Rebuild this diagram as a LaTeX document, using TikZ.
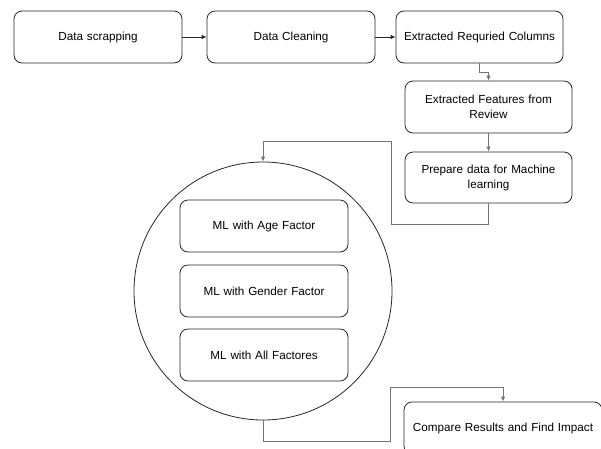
\documentclass[tikz,border=0pt]{standalone}
\usepackage{fontspec}
\setmainfont{Liberation Sans}
\usepackage{tikz}
\usetikzlibrary{arrows.meta,positioning}

\begin{document}
\begin{tikzpicture}[x=1pt,y=-1pt,
      step_box/.style={
         rectangle,
         rounded corners=8pt,
         draw=black!85,
         line width=0.8pt,
         fill=white,
         align=center,
         text width=160pt,
         minimum width=168pt,
         minimum height=52pt,
         inner sep=0pt,
         font=\fontsize{11.7}{15}\selectfont},
       ml_circle/.style={
         circle,
         draw=black!85,
         line width=0.8pt,
         inner sep=0pt,
         minimum size=258pt},
       arrow_black/.style={
        -{Latex[length=5pt,width=4.5pt]},
        draw=black!85,
        line width=0.8pt,
        },
       arrow_gray/.style={
        -{Latex[length=5pt,width=4.5pt]},
        draw=black!55,
        line width=1pt,
        }
]
      \useasboundingbox (0,0) rectangle (601,448);

      %top row
      \node[step_box] (scrap) at (98,37) {Data scrapping};
      \node[step_box] (clean) at (291,37) {Data Cleaning};
      \node[step_box,minimum width=167pt] (cols) at (479.5,37) {Extracted Requried Columns};

      %right column
      \node[step_box,minimum width=167pt] (feat) at (488.5,107) {Extracted Features from\\Review};
      \node[step_box,minimum width=167pt,minimum height=51pt] (prep) at (488.5,177.5) {Prepare data for Machine\\learning};

      %models
      \node[ml_circle] (ml) at (263,291) {};
      \node[step_box] (age) at (264,226) {ML with Age Factor};
      \node[step_box] (gender) at (264,291) {ML with Gender Factor};
      \node[step_box] (all) at (264,355) {ML with All Factores};

      %result
      \node[step_box,minimum width=198pt,text width=190pt] (comp) at (503,428) {Compare Results and Find Impact};

      \coordinate (up_turn) at (391,141);
      \coordinate (down_turn) at (390,387);

      \draw [arrow_black] (scrap) -- (clean);
      \draw [arrow_black] (clean) -- (cols);
      \draw [arrow_gray] (cols.south) -- ++(0,9) -| (feat.north);
      \draw [arrow_gray] (feat) -- (prep);
      \draw [arrow_gray] (prep.south) -- ++(0,21) -| (up_turn) -| (ml.north);
      \draw [arrow_gray] (ml.south) -- ++(0,21) -| (down_turn) -| (comp.north);

\end{tikzpicture}
\end{document}
